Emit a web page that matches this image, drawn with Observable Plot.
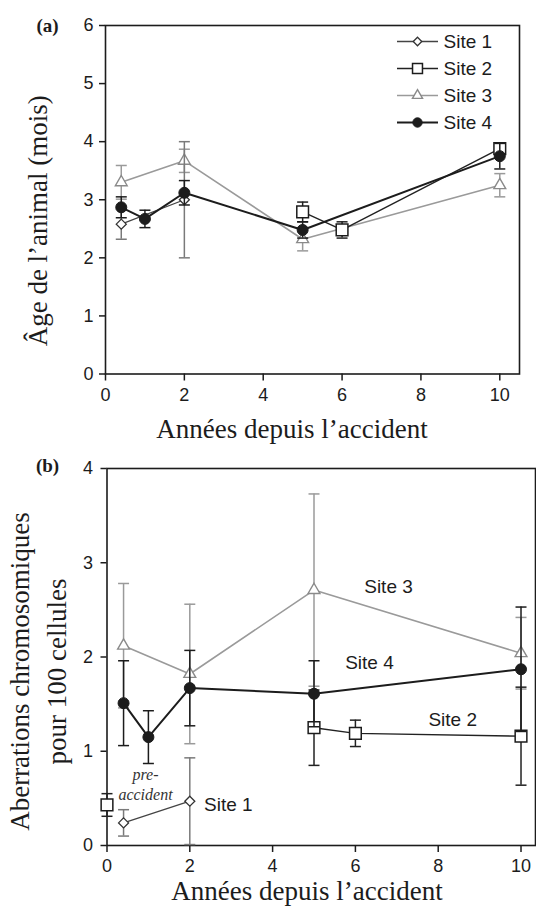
<!DOCTYPE html>
<html><head><meta charset="utf-8">
<script src="https://cdn.jsdelivr.net/npm/d3@7"></script>
<script src="https://cdn.jsdelivr.net/npm/@observablehq/plot@0.6"></script>
<style>
html,body{margin:0;padding:0;background:#fff;}
#chart svg{display:block;}
</style></head><body><div id="chart"></div>
<script>
// ---------- data ----------
const sites = ["Site 1", "Site 2", "Site 3", "Site 4"];
const xTicks = [0, 2, 4, 6, 8, 10];
const ageTicks = [0, 1, 2, 3, 4, 5, 6];
const aberTicks = [0, 1, 2, 3, 4];

// (a) age of animal (months): x = years since accident, y = mean, e = error
const ageX1 = [0.4, 2],            ageY1 = [2.58, 3.0],                 ageE1 = [0.26, 1.0];
const ageX2 = [5, 6, 10],          ageY2 = [2.79, 2.48, 3.88],          ageE2 = [0.17, 0.14, 0.10];
const ageX3 = [0.4, 2, 5, 10],     ageY3 = [3.30, 3.67, 2.32, 3.25],    ageE3 = [0.29, 0.20, 0.20, 0.20];
const ageX4 = [0.4, 1, 2, 5, 10],  ageY4 = [2.87, 2.67, 3.12, 2.48, 3.75], ageE4 = [0.18, 0.15, 0.21, 0.14, 0.22];

// (b) chromosomal aberrations per 100 cells
const abX1 = [0.4, 2],             abY1 = [0.24, 0.47],                 abE1 = [0.14, 0.46];
const abX2 = [0, 5, 6, 10],        abY2 = [0.43, 1.25, 1.19, 1.16],     abE2 = [0.12, 0.40, 0.14, 0.52];
const abX3 = [0.4, 2, 5, 10],      abY3 = [2.12, 1.82, 2.71, 2.04],     abE3 = [0.66, 0.74, 1.02, 0.38];
const abX4 = [0.4, 1, 2, 5, 10],   abY4 = [1.51, 1.15, 1.67, 1.61, 1.87], abE4 = [0.45, 0.28, 0.40, 0.35, 0.66];

// annotations in (b)
const noteText = ["Site 1", "Site 2", "Site 3", "Site 4"];
const noteX = [2.93, 8.35, 6.80, 6.34];
const noteY = [0.43, 1.33, 2.74, 1.94];
const preText = ["pre-\naccident"];
const preX = [0.93], preY = [0.66];

const titleX = "Années depuis l\u2019accident";
const titleYa = "\u00C2ge de l\u2019animal (mois)";
const titleYb = "Aberrations chromosomiques\npour 100 cellules";

// ---------- styles ----------
const SANS = "'Liberation Sans', Arial, Helvetica, sans-serif";
const SERIF = "'Liberation Serif', 'Times New Roman', Times, serif";
const INK = "#1c1c1c";
const GRAY = "#9a9a9a";
const siteStyle = {
  "Site 1": {symbol: "diamond2", fill: "white", stroke: "#333", line: "#444", lw: 1.3, err: "#7a7a7a", r: 4.5, sw: 1.3},
  "Site 2": {symbol: "square",   fill: "white", stroke: INK,    line: "#222", lw: 1.4, err: "#222",    r: 6.6, sw: 1.5},
  "Site 3": {symbol: "triangle", fill: "white", stroke: "#8a8a8a", line: GRAY, lw: 1.6, err: GRAY,   r: 4.4, sw: 1.4},
  "Site 4": {symbol: "circle",   fill: INK,     stroke: INK,    line: INK,    lw: 2.0, err: INK,       r: 5.5, sw: 1}
};
const hLine = (half) => ({draw(ctx) { ctx.moveTo(-half, 0); ctx.lineTo(half, 0); }});

function rows(xs, ys, es) {
  return xs.map((x, i) => ({x, y: ys[i], lo: Math.max(0, ys[i] - es[i]), hi: ys[i] + es[i]}));
}

function seriesMarks(site, data, joinFrom) {
  const s = siteStyle[site];
  return [
    Plot.ruleX(data, {x: "x", y1: "lo", y2: "hi", stroke: s.err, strokeWidth: 1.5}),
    Plot.dot(data, {x: "x", y: "lo", symbol: hLine(5.5), fill: "none", stroke: s.err, strokeWidth: 1.5}),
    Plot.dot(data, {x: "x", y: "hi", symbol: hLine(5.5), fill: "none", stroke: s.err, strokeWidth: 1.5}),
    Plot.line(data.filter(d => d.x >= joinFrom), {x: "x", y: "y", stroke: s.line, strokeWidth: s.lw}),
    Plot.dot(data, {x: "x", y: "y", symbol: s.symbol, r: s.r, fill: s.fill, stroke: s.stroke, strokeWidth: s.sw})
  ];
}

function axes(yTicks, padY) {
  return [
    Plot.frame({stroke: INK, strokeWidth: 1.6}),
    Plot.axisX({ticks: xTicks, tickFormat: d3.format("d"), tickSize: 7, tickPadding: 7, strokeWidth: 1.5, stroke: INK, fill: INK, label: null, fontSize: 18}),
    Plot.axisY({ticks: yTicks, tickFormat: d3.format("d"), tickSize: 6, tickPadding: padY, strokeWidth: 1.5, stroke: INK, fill: INK, label: null, fontSize: 18})
  ];
}

// ---------- panel (a) ----------
const A = {
  "Site 1": rows(ageX1, ageY1, ageE1), "Site 2": rows(ageX2, ageY2, ageE2),
  "Site 3": rows(ageX3, ageY3, ageE3), "Site 4": rows(ageX4, ageY4, ageE4)
};
const legendMarks = sites.flatMap((site, i) => {
  const s = siteStyle[site];
  const dy = 16 + 27 * i;
  return [
    Plot.dot([site], {frameAnchor: "top-right", dx: -102, dy, symbol: hLine(20.5), fill: "none", stroke: s.line, strokeWidth: s.lw}),
    Plot.dot([site], {frameAnchor: "top-right", dx: -102, dy, symbol: s.symbol, r: s.r * 0.85, fill: s.fill, stroke: s.stroke, strokeWidth: s.sw}),
    Plot.text([site], {frameAnchor: "top-right", dx: -76, dy, text: d => d, textAnchor: "start", lineAnchor: "middle", fontSize: 19, fontFamily: SANS, fill: INK})
  ];
});

const chartA = Plot.plot({
  width: 536, height: 445,
  marginTop: 25, marginRight: 17, marginBottom: 71.5, marginLeft: 105,
  x: {domain: [0, 10.5]},
  y: {domain: [0, 6]},
  style: {fontFamily: SANS, fontSize: "18px", color: INK, background: "white"},
  marks: [
    ...axes(ageTicks, 6),
    ...seriesMarks("Site 3", A["Site 3"], -1),
    ...seriesMarks("Site 1", A["Site 1"], -1),
    ...seriesMarks("Site 2", A["Site 2"], -1),
    ...seriesMarks("Site 4", A["Site 4"], -1),
    ...legendMarks,
    Plot.text([titleX], {frameAnchor: "bottom-left", dx: 186.5, dy: 63.5, text: d => d, textAnchor: "middle", lineAnchor: "bottom", fontSize: 27, fontFamily: SERIF, fill: INK}),
    Plot.text([titleYa], {frameAnchor: "left", dx: -67, dy: 21, rotate: -90, text: d => d, textAnchor: "middle", lineAnchor: "middle", fontSize: 27, fontFamily: SERIF, fill: INK}),
    Plot.text(["(a)"], {frameAnchor: "top-left", dx: -58, dy: 0, text: d => d, textAnchor: "middle", lineAnchor: "middle", fontSize: 19, fontWeight: "bold", fontFamily: SERIF, fill: INK})
  ]
});

// ---------- panel (b) ----------
const B = {
  "Site 1": rows(abX1, abY1, abE1), "Site 2": rows(abX2, abY2, abE2),
  "Site 3": rows(abX3, abY3, abE3), "Site 4": rows(abX4, abY4, abE4)
};
const chartB = Plot.plot({
  width: 536, height: 461,
  marginTop: 23, marginRight: 1, marginBottom: 61, marginLeft: 106.5,
  x: {domain: [0, 10.35]},
  y: {domain: [0, 4]},
  style: {fontFamily: SANS, fontSize: "18px", color: INK, background: "white"},
  marks: [
    ...axes(aberTicks, 8),
    ...seriesMarks("Site 3", B["Site 3"], -1),
    ...seriesMarks("Site 1", B["Site 1"], -1),
    ...seriesMarks("Site 2", B["Site 2"], 0.1),
    ...seriesMarks("Site 4", B["Site 4"], -1),
    Plot.text(noteText, {x: (d, i) => noteX[i], y: (d, i) => noteY[i], text: d => d, fontSize: 19, fontFamily: SANS, fill: INK}),
    Plot.text(preText, {x: (d, i) => preX[i], y: (d, i) => preY[i], text: d => d, fontSize: 16, fontStyle: "italic", fontFamily: SERIF, lineHeight: 1.3, fill: "#333"}),
    Plot.text([titleX], {frameAnchor: "bottom-left", dx: 200, dy: 54, text: d => d, textAnchor: "middle", lineAnchor: "bottom", fontSize: 27, fontFamily: SERIF, fill: INK}),
    Plot.text([titleYb], {frameAnchor: "left", dx: -71, dy: 14.5, rotate: -90, text: d => d, textAnchor: "middle", lineAnchor: "middle", lineHeight: 1.35, fontSize: 27, fontFamily: SERIF, fill: INK}),
    Plot.text(["(b)"], {frameAnchor: "top-left", dx: -59.5, dy: -3, text: d => d, textAnchor: "middle", lineAnchor: "middle", fontSize: 19, fontWeight: "bold", fontFamily: SERIF, fill: INK})
  ]
});

document.getElementById("chart").append(chartA, chartB);
</script></body></html>
